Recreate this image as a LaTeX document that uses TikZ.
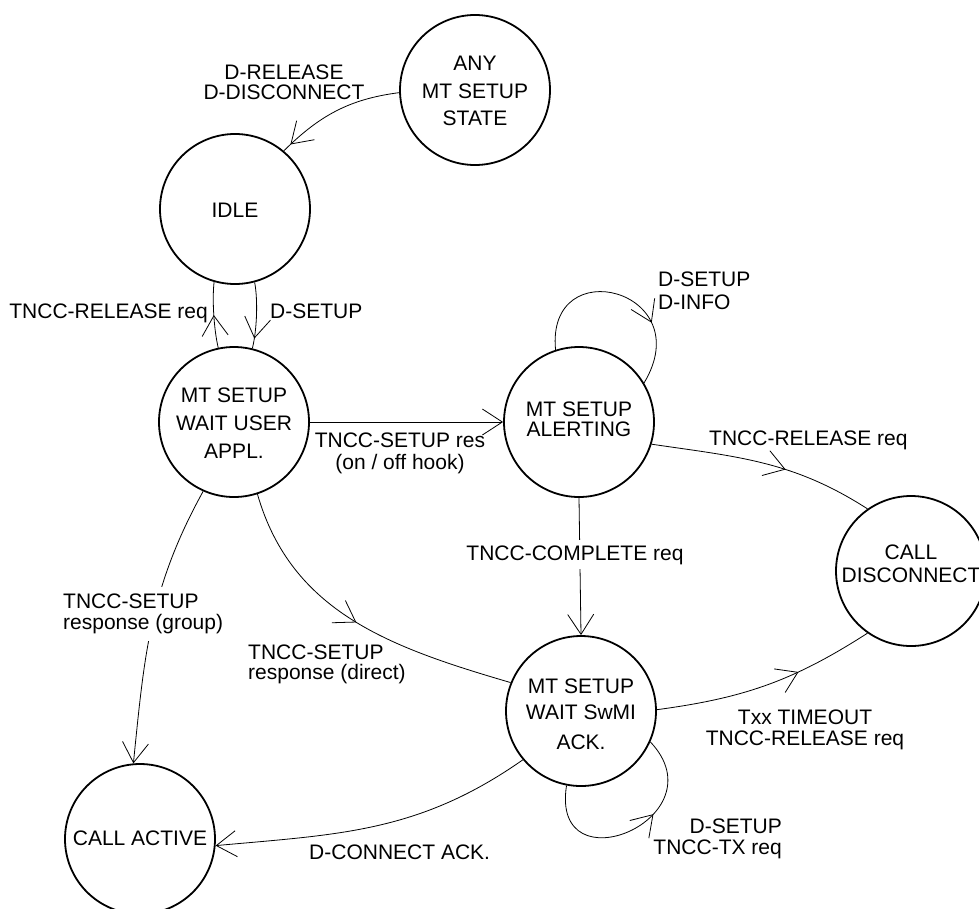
\documentclass[tikz,border=0pt]{standalone}
\usepackage{fontspec}
\setmainfont{Liberation Sans}
\usetikzlibrary{arrows.meta,decorations.markings}
\begin{document}
\begin{tikzpicture}[x=1pt,y=-1pt,
  >={Straight Barb[length=20pt,width=26pt]},
  state/.style={circle,draw,line width=1.8pt,minimum size=150pt,inner sep=0pt},
  stxt/.style={inner sep=0pt,align=center,font=\fontsize{21}{21}\selectfont},
  lbl/.style={inner sep=0pt,font=\fontsize{21}{21}\selectfont},
  conn/.style={line width=0.8pt},
  midarrow/.style={postaction={decorate},decoration={markings,mark=at position #1 with {\arrow{>}}}}
]
\useasboundingbox (0,0) rectangle (979,908);

% states
\node[state] (any) at (475,90) {};
\node[state] (idle) at (235,209) {};
\node[state] (user) at (234,422) {};
\node[state] (alert) at (579,422) {};
\node[state] (swmi) at (581,711) {};
\node[state] (disc) at (911,571) {};
\node[state] (active) at (140,839) {};

% state texts (base anchor = baseline of the last line)
\node[stxt,anchor=base] (anyt) at (475,125.5) {ANY\\[6.5pt]MT SETUP\\[6.5pt]STATE};
\node[stxt,anchor=base] (idlet) at (235,217.5) {IDLE};
\node[stxt,anchor=base] (usert) at (234,458.5) {MT SETUP\\[7pt]WAIT USER\\[7pt]APPL.};
\node[stxt,anchor=base] (alertt) at (579,436.5) {MT SETUP\\[-1pt]ALERTING};
\node[stxt,anchor=base] (swmit) at (581,749.5) {MT SETUP\\[5pt]WAIT SwMI\\[9pt]ACK.};
\node[stxt,anchor=base] (disct) at (911,582.5) {CALL\\[2pt]DISCONNECT};
\node[stxt,anchor=base] (activet) at (140,845.5) {CALL ACTIVE};

% connectors
\draw[conn,midarrow=0.93] (any.182) .. controls (350,99) and (320,115) .. (idle.50);
\draw[conn,midarrow=0.5] (user.102) .. controls (214,330) and (212,300) .. (idle.254);
\draw[conn,midarrow=0.85] (idle.285) .. controls (258,300) and (257,330) .. (user.76);
\draw[conn,->] (user.0) -- (alert.180);
\draw[conn,midarrow=0.7] (alert.108) .. controls (546,250) and (700,290) .. (alert.31);
\draw[conn,midarrow=0.6] (alert.343) .. controls (739,457) and (793,461) .. (disc.125);
\draw[conn,->] (alert.270) -- (swmi.90);
\draw[conn,->] (user.246) .. controls (149.7,588) and (144.5,653.6) .. (active.95);
\draw[conn,midarrow=0.5] (user.288) .. controls (291.5,612.5) and (390.5,647.4) .. (swmi.158);
\draw[conn,midarrow=0.65] (swmi.1) .. controls (744,698) and (793,681) .. (disc.235);
\draw[conn,midarrow=0.62] (swmi.259) .. controls (550,890) and (722,818) .. (swmi.336);
\draw[conn,->] (swmi.220) .. controls (419,832.6) and (339.5,834.3) .. (active.355);

% labels (base anchor = baseline of the last line)
\node[lbl,align=center,anchor=base] (l1) at (284,99) {D-RELEASE\\[-1.5pt]D-DISCONNECT};
\node[lbl,anchor=base east] (l2) at (208,318) {TNCC-RELEASE req};
\node[lbl,anchor=base west] (l3) at (270,318) {D-SETUP};
\node[lbl,align=center,anchor=base] (l4) at (400,469.5) {TNCC-SETUP res\\[1pt](on / off hook)};
\node[lbl,align=left,anchor=base west] (l5) at (658,309.5) {D-SETUP\\[2pt]D-INFO};
\node[lbl,anchor=base west] (l6) at (709,445) {TNCC-RELEASE req};
\node[lbl,anchor=base,fill=white,inner xsep=3pt,inner ysep=5pt] (l7) at (575,560) {TNCC-COMPLETE req};
\node[lbl,align=left,anchor=base west,fill=white,inner xsep=2pt,inner ysep=7pt] (l8) at (61,629.5) {TNCC-SETUP\\response (group)};
\node[lbl,align=left,anchor=base west] (l9) at (248,679.5) {TNCC-SETUP\\[-1pt]response (direct)};
\node[lbl,align=center,anchor=base] (l10) at (805,745.5) {Txx TIMEOUT\\TNCC-RELEASE req};
\node[lbl,align=right,anchor=base east] (l11) at (782,854.5) {D-SETUP\\TNCC-TX req};
\node[lbl,anchor=base west] (l12) at (309,859) {D-CONNECT ACK.};
\end{tikzpicture}
\end{document}
